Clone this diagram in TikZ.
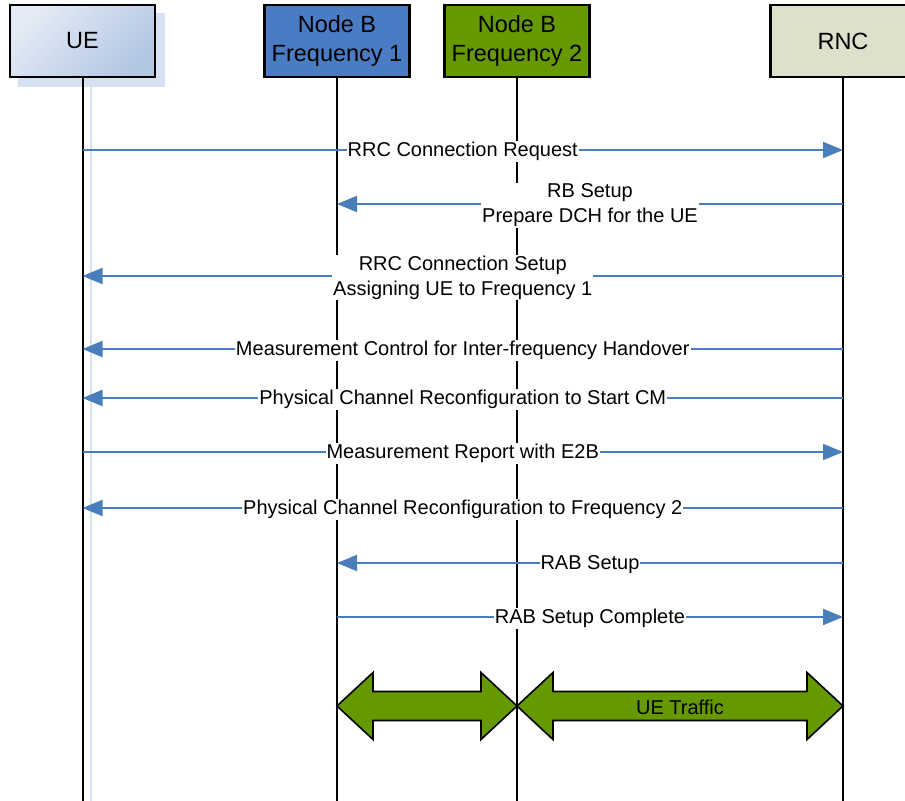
\documentclass[tikz,border=0pt]{standalone}
\usepackage{fontspec}
\setmainfont{Liberation Sans}
\usetikzlibrary{arrows.meta,calc}
\definecolor{msgblue}{HTML}{4A7EBB}
\definecolor{nbone}{HTML}{4A7CC4}
\definecolor{nbtwo}{HTML}{669900}
\definecolor{rncfill}{HTML}{DDE1CB}
\definecolor{uelight}{HTML}{E4EBF5}
\definecolor{uedark}{HTML}{B3C7E3}
\definecolor{shadowblue}{HTML}{D6E1F1}
\tikzset{
	entity/.style={draw=black, line width=1.2pt, minimum width=72.5pt, minimum height=36pt,
		align=center, inner sep=0pt, font=\fontsize{11.75}{14.5}\selectfont},
	life/.style={line width=1pt},
	msg/.style={draw=msgblue, line width=1pt, -{Triangle[length=10pt,width=8pt]}},
	msglabel/.style={fill=white, inner sep=0.5pt, align=center, text=black, yshift=-0.75pt,
		font=\fontsize{10}{12.5}\selectfont},
	traffic/.style={draw=black, line width=0.8pt, fill=nbtwo, line join=miter},
}
\begin{document}
\begin{tikzpicture}[x=0.5pt, y=-0.5pt]
	\useasboundingbox (0,0) rectangle (905,801);
	\clip (0,0) rectangle (905,801);
	% UE shadow
	\fill[shadowblue] (18,13) rectangle (165,87);
	\draw[shadowblue, line width=1pt] (91,87) -- (91,801);
	% entities
	\node[entity, left color=uelight, right color=uedark, shading angle=45] (ue) at (82.5,41) {UE};
	\node[entity, fill=nbone] (nb1) at (337,41) {Node B\\Frequency 1};
	\node[entity, fill=nbtwo] (nb2) at (517,41) {Node B\\Frequency 2};
	\node[entity, fill=rncfill] (rnc) at (843,41) {RNC};
	% lifelines
	\draw[life] (ue.south) -- (ue.south |- 0,801);
	\draw[life] (nb1.south) -- (nb1.south |- 0,801);
	\draw[life] (nb2.south) -- (nb2.south |- 0,801);
	\draw[life] (rnc.south) -- (rnc.south |- 0,801);
	% messages
	\draw[msg] (ue.south |- 0,150) -- node[msglabel] {RRC Connection Request} (rnc.south |- 0,150);
	\draw[msg] (rnc.south |- 0,204) -- node[msglabel] {RB Setup\\Prepare DCH for the UE} (nb1.south |- 0,204);
	\draw[msg] (rnc.south |- 0,276) -- node[msglabel] {RRC Connection Setup\\Assigning UE to Frequency 1} (ue.south |- 0,276);
	\draw[msg] (rnc.south |- 0,349) -- node[msglabel] {Measurement Control for Inter-frequency Handover} (ue.south |- 0,349);
	\draw[msg] (rnc.south |- 0,398) -- node[msglabel] {Physical Channel Reconfiguration to Start CM} (ue.south |- 0,398);
	\draw[msg] (ue.south |- 0,452) -- node[msglabel] {Measurement Report with E2B} (rnc.south |- 0,452);
	\draw[msg] (rnc.south |- 0,508) -- node[msglabel] {Physical Channel Reconfiguration to Frequency 2} (ue.south |- 0,508);
	\draw[msg] (rnc.south |- 0,563) -- node[msglabel] {RAB Setup} (nb1.south |- 0,563);
	\draw[msg] (nb1.south |- 0,617) -- node[msglabel] {RAB Setup Complete} (rnc.south |- 0,617);
	% traffic arrows
	\coordinate (t1) at (nb1.south |- 0,706);
	\coordinate (t2) at (nb2.south |- 0,706);
	\coordinate (t3) at (rnc.south |- 0,706);
	\draw[traffic] (t1) -- ++(36,-33.5) -- ++(0,19) -- ($(t2)+(-36,-14.5)$) -- ++(0,-19) -- (t2)
		-- ++(-36,33.5) -- ++(0,-19) -- ($(t1)+(36,14.5)$) -- ++(0,19) -- cycle;
	\draw[traffic] (t2) -- ++(36,-33.5) -- ++(0,19) -- ($(t3)+(-36,-14.5)$) -- ++(0,-19) -- (t3)
		-- ++(-36,33.5) -- ++(0,-19) -- ($(t2)+(36,14.5)$) -- ++(0,19) -- cycle;
	\node[msglabel, fill=none] (traf) at ($(t2)!0.5!(t3)$) {UE Traffic};
\end{tikzpicture}
\end{document}
